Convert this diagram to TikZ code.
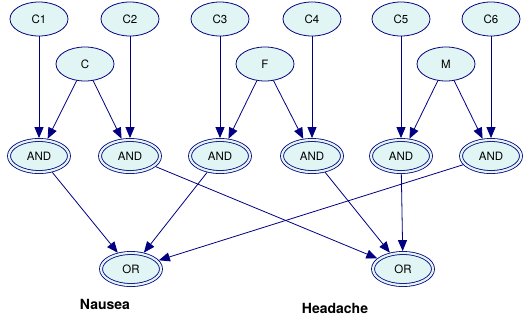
\documentclass[tikz,border=0pt]{standalone}
\usepackage{fontspec}
\setmainfont{TeX Gyre Heros}
\usetikzlibrary{arrows.meta, shapes.geometric}
\usepackage{xcolor}
\definecolor{nodefill}{HTML}{E2F5F5}
\definecolor{edgeblue}{HTML}{000080}
\tikzset{%
	every var/.style={
		ellipse,
		draw=edgeblue,
		fill=nodefill,
		line width=0.8pt,
		minimum width=58pt,
		minimum height=34pt,
		inner sep=0pt,
		font=\fontsize{11.5}{12}\selectfont
	},
	gate/.style={
		every var,
		double=nodefill,
		double distance=2.2pt,
		outer sep=1.9pt,
		minimum width=60pt,
		minimum height=32pt
	},
	link/.style={
		draw=edgeblue,
		line width=0.8pt,
		-{Triangle[length=11pt, width=9pt]}
	},
	label text/.style={
		font=\fontsize{14}{16}\selectfont\bfseries
	},
}

\begin{document}
\begin{tikzpicture}[x=1pt, y=-1pt]
			\useasboundingbox (0,0) rectangle (526,322);
			% Condition nodes on top and one AND gate under each
			\foreach \xpos [count=\i] in {39,130,220,312,401,491} {
				\node[every var] (c\i) at (\xpos,19) {C\i};
				\node[gate] (and\i) at (\xpos,156) {AND};
			}
			
			% Shared inputs
			\node[every var] (cc) at (85,64) {C};
			\node[every var] (ff) at (265,64) {F};
			\node[every var] (mm) at (446,64) {M};
			
			% OR gates and their names
			\node[gate] (nausea) at (131,269) {OR};
			\node[gate] (headache) at (403,269) {OR};
			\node[label text] (lnausea) at (105,304) {Nausea};
			\node[label text] (lheadache) at (335,308) {Headache};
			
			% Edges into the AND gates
			\foreach \i in {1,...,6} {
				\draw[link] (c\i) -- (and\i);
			}
			\draw[link] (cc) -- (and1);
			\draw[link] (cc) -- (and2);
			\draw[link] (ff) -- (and3);
			\draw[link] (ff) -- (and4);
			\draw[link] (mm) -- (and5);
			\draw[link] (mm) -- (and6);
			
			% Edges into the OR gates
			\foreach \i in {1,3,6} {
				\draw[link] (and\i) -- (nausea);
			}
			\foreach \i in {2,4,5} {
				\draw[link] (and\i) -- (headache);
			}
		\end{tikzpicture}
\end{document}
